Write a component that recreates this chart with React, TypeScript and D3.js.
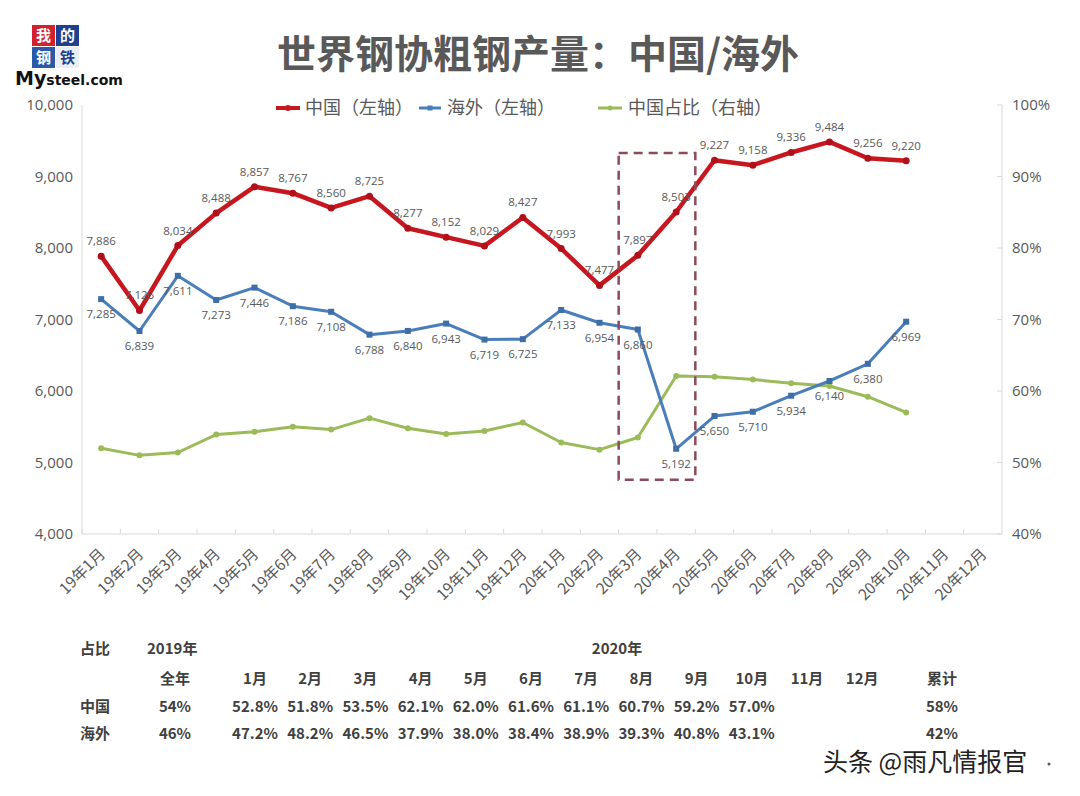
import React from "react";
import * as d3 from "d3";

// categories (x axis)
const months = [
  "19年1月", "19年2月", "19年3月", "19年4月", "19年5月", "19年6月",
  "19年7月", "19年8月", "19年9月", "19年10月", "19年11月", "19年12月",
  "20年1月", "20年2月", "20年3月", "20年4月", "20年5月", "20年6月",
  "20年7月", "20年8月", "20年9月", "20年10月", "20年11月", "20年12月",
];

// 中国（左轴）, 万吨
const chinaOutput = [
  7886, 7126, 8034, 8488, 8857, 8767, 8560, 8725, 8277, 8152, 8029, 8427,
  7993, 7477, 7897, 8503, 9227, 9158, 9336, 9484, 9256, 9220,
];

// 海外（左轴）
const overseasOutput = [
  7285, 6839, 7611, 7273, 7446, 7186, 7108, 6788, 6840, 6943, 6719, 6725,
  7133, 6954, 6860, 5192, 5650, 5710, 5934, 6140, 6380, 6969,
];

// 中国占比（右轴）, %
const chinaShare = [
  52.0, 51.0, 51.4, 53.9, 54.3, 55.0, 54.6, 56.2, 54.8, 54.0, 54.4, 55.6,
  52.8, 51.8, 53.5, 62.1, 62.0, 61.6, 61.1, 60.7, 59.2, 57.0,
];

const leftTicks = [4000, 5000, 6000, 7000, 8000, 9000, 10000];
const rightTicks = [40, 50, 60, 70, 80, 90, 100];

// dashed highlight: months + value span on left axis
const highlightMonths = ["20年3月", "20年4月"];
const highlightRange = [4760, 9330];

// table under the chart
const tableMonths = ["1月", "2月", "3月", "4月", "5月", "6月", "7月", "8月", "9月", "10月", "11月", "12月"];
const chinaRow2020 = ["52.8%", "51.8%", "53.5%", "62.1%", "62.0%", "61.6%", "61.1%", "60.7%", "59.2%", "57.0%"];
const overseasRow2020 = ["47.2%", "48.2%", "46.5%", "37.9%", "38.0%", "38.4%", "38.9%", "39.3%", "40.8%", "43.1%"];
const fullYear2019 = ["54%", "46%"];
const cumulative2020 = ["58%", "42%"];

const W = 1080;
const H = 796;
const left = 82;
const right = 1002;
const top = 105;
const bottom = 534;

const CJK = "'Noto Sans CJK SC', 'Noto Sans', sans-serif";
const NUM = "'Open Sans', 'Noto Sans', sans-serif";

const RED = "#C8161E";
const BLUE = "#4A7EBB";
const GREEN = "#9BBB59";
const TXT = "#595959";

export default function App() {
  const x = d3.scaleBand<string>().domain(months).range([left, right]);
  const bw = x.bandwidth();
  const cx = (i: number) => (x(months[i]) as number) + bw / 2;
  const yL = d3.scaleLinear().domain([4000, 10000]).range([bottom, top]);
  const yR = d3.scaleLinear().domain([40, 100]).range([bottom, top]);
  const fmt = d3.format(",");

  const lineL = d3.line<number>().x((_, i) => cx(i)).y((d) => yL(d));
  const lineR = d3.line<number>().x((_, i) => cx(i)).y((d) => yR(d));

  const hx0 = x(highlightMonths[0]) as number;
  const hx1 = (x(highlightMonths[1]) as number) + bw;

  const colX = (i: number) => 255 + i * 55.2;

  return (
    <svg width={W} height={H} style={{ position: "absolute", left: 0, top: 0, background: "#fff" }}>
      <rect width={W} height={H} fill="#fff" />

      {/* logo */}
      <g fontFamily={CJK} fontWeight="bold" fontSize={15} textAnchor="middle">
        <rect x={32} y={25} width={23} height={21} fill="#D2202E" />
        <rect x={56} y={25} width={23} height={21} fill="#1F3F8F" />
        <rect x={32} y={47} width={23} height={21} fill="#2D5AA8" />
        <rect x={56} y={47} width={23} height={21} fill="#E9EEF7" />
        <text x={43.5} y={41} fill="#fff">我</text>
        <text x={67.5} y={41} fill="#fff">的</text>
        <text x={43.5} y={63} fill="#fff">钢</text>
        <text x={67.5} y={63} fill="#1F3F8F">铁</text>
      </g>
      <text x={15} y={85} fontFamily="'DejaVu Sans', sans-serif" fontWeight="bold" fill="#111">
        <tspan fontSize={19}>My</tspan>
        <tspan fontSize={14}>steel.com</tspan>
      </text>

      {/* title */}
      <text x={538} y={68} textAnchor="middle" fontFamily={CJK} fontWeight="bold" fontSize={39} fill={TXT}>
        世界钢协粗钢产量：中国/海外
      </text>

      {/* legend */}
      <g fontFamily={CJK} fontSize={18} fill={TXT}>
        <line x1={276} x2={300} y1={108} y2={108} stroke={RED} strokeWidth={4} />
        <circle cx={288} cy={108} r={3} fill={RED} />
        <text x={305} y={114}>中国（左轴）</text>
        <line x1={419} x2={441} y1={108} y2={108} stroke={BLUE} strokeWidth={3} />
        <rect x={427.5} y={105.5} width={5} height={5} fill={BLUE} />
        <text x={447} y={114}>海外（左轴）</text>
        <line x1={598} x2={622} y1={108} y2={108} stroke={GREEN} strokeWidth={3} />
        <circle cx={610} cy={108} r={2.5} fill={GREEN} />
        <text x={628} y={114}>中国占比（右轴）</text>
      </g>

      {/* axes */}
      <line x1={left} x2={left} y1={top} y2={bottom} stroke="#d9d9d9" />
      <line x1={right} x2={right} y1={top} y2={bottom} stroke="#d9d9d9" />
      <line x1={left} x2={right} y1={bottom} y2={bottom} stroke="#d9d9d9" />
      {months.map((m, i) => (
        <line key={"t" + i} x1={x(m) as number} x2={x(m) as number} y1={bottom - 5} y2={bottom} stroke="#d9d9d9" />
      ))}
      {rightTicks.map((t) => (
        <line key={"rt" + t} x1={right - 5} x2={right} y1={yR(t)} y2={yR(t)} stroke="#d9d9d9" />
      ))}
      <g fontFamily={NUM} fontSize={15} fill={TXT}>
        {leftTicks.map((t) => (
          <text key={"l" + t} x={73} y={yL(t)} dy="0.35em" textAnchor="end">{fmt(t)}</text>
        ))}
        {rightTicks.map((t) => (
          <text key={"r" + t} x={1012} y={yR(t)} dy="0.35em">{t}%</text>
        ))}
      </g>
      <g fontFamily={CJK} fontSize={15.5} fill={TXT}>
        {months.map((m, i) => (
          <text key={"x" + i} textAnchor="end" transform={`translate(${cx(i) + 5},${bottom + 21}) rotate(-45)`}>
            {m}
          </text>
        ))}
      </g>

      {/* lines */}
      <path d={lineR(chinaShare) || ""} fill="none" stroke={GREEN} strokeWidth={3} strokeLinejoin="round" />
      {chinaShare.map((v, i) => (
        <circle key={"g" + i} cx={cx(i)} cy={yR(v)} r={3} fill={GREEN} />
      ))}
      <path d={lineL(overseasOutput) || ""} fill="none" stroke={BLUE} strokeWidth={3} strokeLinejoin="round" />
      {overseasOutput.map((v, i) => (
        <rect key={"b" + i} x={cx(i) - 3} y={yL(v) - 3} width={6} height={6} fill="#3E6EA8" />
      ))}
      <path d={lineL(chinaOutput) || ""} fill="none" stroke={RED} strokeWidth={4.5} strokeLinejoin="round" />
      {chinaOutput.map((v, i) => (
        <circle key={"c" + i} cx={cx(i)} cy={yL(v)} r={3.5} fill="#B0101A" />
      ))}

      {/* data labels */}
      <g fontFamily={NUM} fontSize={11.5} fill={TXT} textAnchor="middle">
        {chinaOutput.map((v, i) => (
          <text key={"cl" + i} x={cx(i)} y={yL(v) - 11}>{fmt(v)}</text>
        ))}
        {overseasOutput.map((v, i) => (
          <text key={"bl" + i} x={cx(i)} y={yL(v) + 19}>{fmt(v)}</text>
        ))}
      </g>

      {/* dashed highlight */}
      <rect
        x={hx0}
        y={yL(highlightRange[1])}
        width={hx1 - hx0}
        height={yL(highlightRange[0]) - yL(highlightRange[1])}
        fill="none"
        stroke="#8E4A58"
        strokeWidth={2.5}
        strokeDasharray="9,6"
      />

      {/* share table */}
      <g fontFamily={CJK} fontWeight="bold" fontSize={15} fill="#404040">
        <text x={80} y={654}>占比</text>
        <text x={147} y={654}>2019年</text>
        <text x={617} y={654} textAnchor="middle">2020年</text>
        <text x={175} y={684} textAnchor="middle">全年</text>
        {tableMonths.map((m, i) => (
          <text key={"m" + i} x={colX(i)} y={684} textAnchor="middle">{m}</text>
        ))}
        <text x={942} y={684} textAnchor="middle">累计</text>

        <text x={80} y={712}>中国</text>
        <text x={80} y={739}>海外</text>
        <text x={175} y={712} textAnchor="middle">{fullYear2019[0]}</text>
        <text x={175} y={739} textAnchor="middle">{fullYear2019[1]}</text>
        {chinaRow2020.map((v, i) => (
          <text key={"cr" + i} x={colX(i)} y={712} textAnchor="middle">{v}</text>
        ))}
        {overseasRow2020.map((v, i) => (
          <text key={"or" + i} x={colX(i)} y={739} textAnchor="middle">{v}</text>
        ))}
        <text x={942} y={712} textAnchor="middle">{cumulative2020[0]}</text>
        <text x={942} y={739} textAnchor="middle">{cumulative2020[1]}</text>
      </g>

      {/* watermark */}
      <text
        x={823}
        y={771}
        fontFamily={CJK}
        fontSize={25}
        fill="#222"
        stroke="#fff"
        strokeWidth={2}
        style={{ paintOrder: "stroke" }}
      >
        头条 @雨凡情报官
      </text>
      <circle cx={1049} cy={764} r={1.5} fill="#555" />
    </svg>
  );
}
